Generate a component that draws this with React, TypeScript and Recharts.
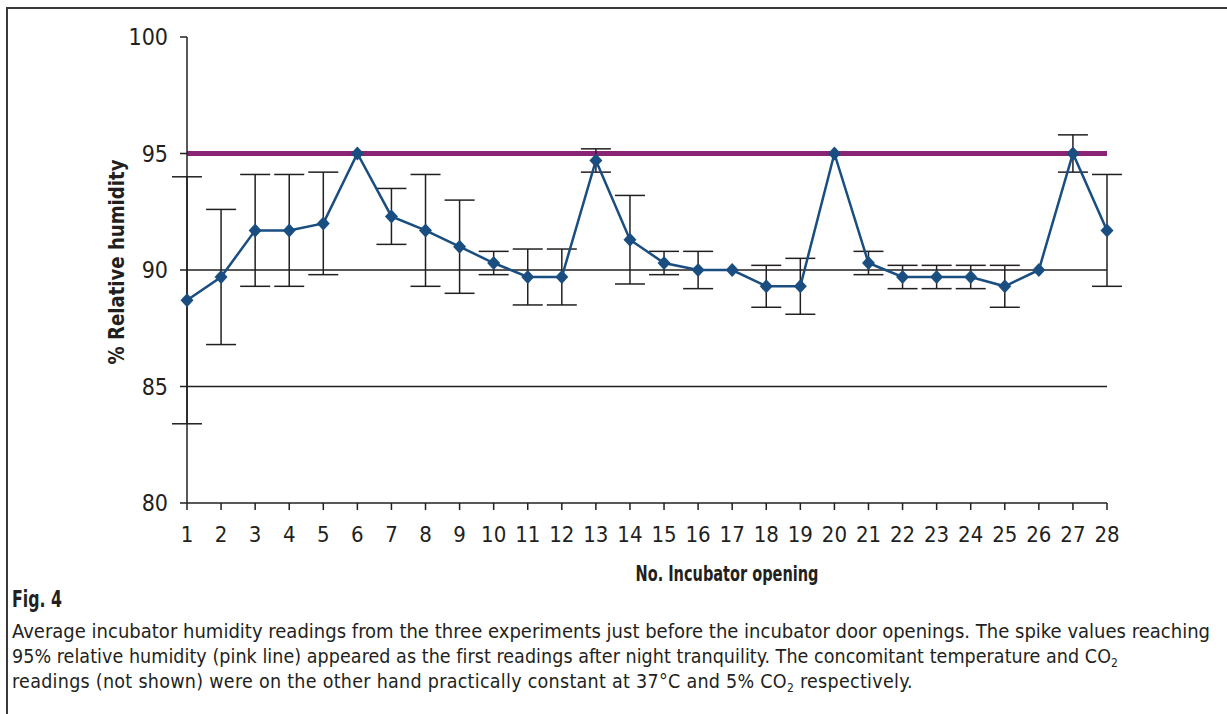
import { ErrorBar, Line, LineChart, ReferenceLine, XAxis, YAxis } from "recharts";

const openings = [1, 2, 3, 4, 5, 6, 7, 8, 9, 10, 11, 12, 13, 14, 15, 16, 17, 18, 19, 20, 21, 22, 23, 24, 25, 26, 27, 28];
const humidity = [
  88.7, 89.7, 91.7, 91.7, 92.0, 95.0, 92.3, 91.7, 91.0, 90.3, 89.7, 89.7, 94.7, 91.3,
  90.3, 90.0, 90.0, 89.3, 89.3, 95.0, 90.3, 89.7, 89.7, 89.7, 89.3, 90.0, 95.0, 91.7,
];
const spread = [
  5.3, 2.9, 2.4, 2.4, 2.2, 0, 1.2, 2.4, 2.0, 0.5, 1.2, 1.2, 0.5, 1.9,
  0.5, 0.8, 0, 0.9, 1.2, 0, 0.5, 0.5, 0.5, 0.5, 0.9, 0, 0.8, 2.4,
];
const yTicks = [80, 85, 90, 95, 100];
const gridValues = [85, 90];
const limit = 95;

const INK = "#231f20";
const BLUE = "#1a4e80";
const PURPLE = "#8a2474";
const FONT = "'Liberation Sans Narrow', 'DejaVu Sans Condensed', 'Roboto Condensed', sans-serif";

const data = openings.map((n, i) => ({ opening: n, rh: humidity[i], err: spread[i] }));

function Diamond(props: any) {
  const { cx, cy, index } = props;
  if (cx == null || cy == null) return null;
  return (
    <polygon
      key={`d-${index}`}
      points={`${cx},${cy - 7} ${cx + 6.5},${cy} ${cx},${cy + 7} ${cx - 6.5},${cy}`}
      fill={BLUE}
    />
  );
}

export default function App() {
  return (
    <div style={{ position: "absolute", left: 0, top: 0, width: 1227, height: 714, background: "#fff" }}>
      <div
        style={{
          position: "absolute",
          left: 6,
          top: 7,
          right: 0,
          bottom: 0,
          borderTop: "2px solid #3a3a3a",
          borderLeft: "2px solid #3a3a3a",
        }}
      />
      <div style={{ position: "absolute", left: 0, top: 0 }}>
        <LineChart width={1227} height={600} data={data} margin={{ top: 37, right: 120, left: 107, bottom: 57 }}>
          <XAxis
            dataKey="opening"
            type="number"
            domain={[1, 28]}
            ticks={openings}
            interval={0}
            height={40}
            axisLine={{ stroke: INK, strokeWidth: 1.5 }}
            tickLine={{ stroke: INK, strokeWidth: 1.5 }}
            tickSize={7}
            tickMargin={16}
            tick={{ fill: INK, fontSize: 22, fontFamily: FONT }}
          />
          <YAxis
            type="number"
            domain={[80, 100]}
            ticks={yTicks}
            interval={0}
            width={80}
            axisLine={{ stroke: INK, strokeWidth: 1.5 }}
            tickLine={{ stroke: INK, strokeWidth: 1.5 }}
            tickSize={7}
            tickMargin={12}
            tick={{ fill: INK, fontSize: 23, fontFamily: FONT }}
          />
          {gridValues.map((v) => (
            <ReferenceLine key={v} y={v} stroke={INK} strokeWidth={1.5} />
          ))}
          <ReferenceLine y={limit} stroke={PURPLE} strokeWidth={5} />
          <Line
            dataKey="rh"
            stroke={BLUE}
            strokeWidth={2.5}
            dot={Diamond}
            activeDot={false}
            isAnimationActive={false}
          >
            <ErrorBar dataKey="err" direction="y" width={15} stroke={INK} strokeWidth={1.5} isAnimationActive={false} />
          </Line>
        </LineChart>
      </div>
      <svg
        width={1227}
        height={714}
        style={{ position: "absolute", left: 0, top: 0, pointerEvents: "none" }}
        fontFamily={FONT}
        fill={INK}
      >
        <text
          transform="translate(124, 262) rotate(-90)"
          textAnchor="middle"
          fontSize={22}
          fontWeight="bold"
          textLength={205}
          lengthAdjust="spacingAndGlyphs"
        >
          % Relative humidity
        </text>
        <text x={727} y={581} textAnchor="middle" fontSize={22} fontWeight="bold" textLength={183} lengthAdjust="spacingAndGlyphs">
          No. Incubator opening
        </text>
        <text x={12} y={607} fontSize={23} fontWeight="bold" textLength={50} lengthAdjust="spacingAndGlyphs">
          Fig. 4
        </text>
        <text x={12} y={638} fontSize={20} textLength={1198} lengthAdjust="spacingAndGlyphs">
          Average incubator humidity readings from the three experiments just before the incubator door openings. The spike values reaching
        </text>
        <text x={12} y={663} fontSize={19.5} letterSpacing={0.05}>
          95% relative humidity (pink line) appeared as the first readings after night tranquility. The concomitant temperature and CO
          <tspan fontSize={12} baselineShift="-4">2</tspan>
        </text>
        <text x={12} y={688} fontSize={19.5} letterSpacing={0.28}>
          readings (not shown) were on the other hand practically constant at 37°C and 5% CO
          <tspan fontSize={12} baselineShift="-4">2</tspan> respectively.
        </text>
      </svg>
    </div>
  );
}
